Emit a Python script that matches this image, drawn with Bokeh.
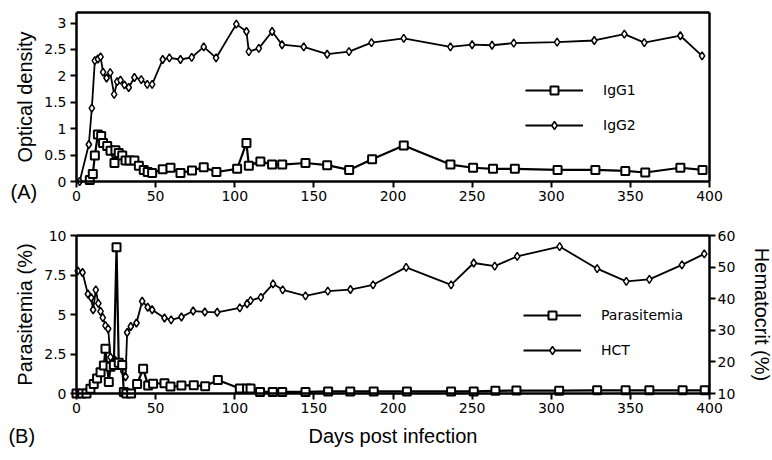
from bokeh.plotting import figure
from bokeh.layouts import column
from bokeh.models import Range1d, LinearAxis, FixedTicker, Legend, LegendItem, Label
from bokeh.embed import file_html
from bokeh.resources import INLINE

# ---------------- data ----------------
igg1_days = [8.4, 10.3, 11.6, 13.5, 15.6, 16.8, 19.4, 21.5, 24.0, 24.6, 26.7, 28.9, 31.0, 33.5,
             36.6, 39.4, 42.5, 45.0, 47.8, 54.5, 59.4, 65.7, 73.0, 80.4, 88.4, 101.5, 107.4,
             108.9, 116.2, 123.6, 130.0, 144.7, 158.4, 172.3, 186.8, 206.8, 236.3, 250.6,
             263.2, 277.0, 304.0, 327.9, 346.8, 359.4, 381.6, 395.6]
igg1_od = [0.03, 0.14, 0.49, 0.89, 0.86, 0.73, 0.67, 0.58, 0.35, 0.59, 0.54, 0.49, 0.40, 0.40,
           0.40, 0.30, 0.22, 0.18, 0.16, 0.23, 0.26, 0.16, 0.21, 0.27, 0.18, 0.24, 0.73,
           0.30, 0.38, 0.32, 0.32, 0.35, 0.31, 0.22, 0.42, 0.68, 0.32, 0.26,
           0.24, 0.24, 0.22, 0.22, 0.20, 0.17, 0.26, 0.22]

igg2_days = [2.0, 7.8, 9.7, 11.6, 13.5, 15.2, 16.8, 19.0, 21.3, 23.8, 25.7, 27.8, 30.3, 33.0,
             36.6, 40.9, 44.7, 47.8, 54.5, 58.7, 65.7, 72.8, 80.4, 88.2, 101.0, 107.4, 108.9,
             115.2, 123.6, 129.9, 143.6, 158.4, 172.2, 186.4, 206.8, 236.3, 250.0, 262.6,
             276.3, 303.7, 327.2, 346.2, 358.8, 381.6, 395.3]
igg2_od = [0.0, 0.70, 1.39, 2.29, 2.32, 2.36, 2.07, 1.96, 2.06, 1.65, 1.89, 1.92, 1.83, 1.78,
           1.97, 1.93, 1.84, 1.84, 2.31, 2.34, 2.31, 2.35, 2.55, 2.34, 2.98, 2.84, 2.46,
           2.52, 2.84, 2.59, 2.55, 2.41, 2.46, 2.63, 2.71, 2.55, 2.59, 2.58,
           2.62, 2.64, 2.67, 2.79, 2.63, 2.76, 2.38]

para_days = [0.0, 3.6, 6.3, 8.8, 10.9, 13.0, 15.2, 17.3, 18.3, 20.4, 21.5, 23.6, 25.3, 26.7,
             28.9, 29.9, 31.5, 34.5, 38.3, 42.1, 45.3, 48.4, 55.6, 59.4, 66.3, 74.1, 81.3,
             89.3, 103.2, 107.8, 110.0, 116.0, 124.0, 130.0, 144.7, 159.0, 173.0, 187.8,
             208.8, 236.7, 251.0, 264.7, 278.0, 305.0, 329.0, 347.0, 362.0, 383.0, 397.0]
para_pct = [0.0, 0.0, 0.0, 0.3, 0.6, 0.95, 1.35, 1.77, 2.83, 0.72, 1.7, 1.8, 9.26, 1.95,
            1.8, 0.1, 0.0, 0.0, 0.6, 1.56, 0.5, 0.62, 0.65, 0.44, 0.5, 0.53, 0.46,
            0.86, 0.32, 0.32, 0.32, 0.1, 0.1, 0.1, 0.1, 0.13, 0.13, 0.13,
            0.13, 0.13, 0.13, 0.17, 0.19, 0.18, 0.2, 0.2, 0.2, 0.2, 0.2]

hct_days = [0.8, 3.8, 7.2, 9.3, 10.5, 12.2, 13.8, 15.2, 16.6, 18.3, 20.0, 21.5, 24.5, 27.0,
            29.5, 31.0, 32.0, 34.3, 37.9, 41.5, 45.0, 47.8, 55.6, 59.8, 66.3, 73.7, 81.1,
            88.9, 103.2, 107.8, 110.0, 116.5, 124.2, 130.3, 144.7, 158.8, 173.1, 187.4,
            208.3, 236.7, 251.0, 264.3, 278.5, 305.3, 329.0, 347.4, 362.0, 382.6, 396.7]
hct_pct = [48.8, 48.3, 41.5, 40.3, 36.5, 42.8, 38.5, 36.0, 34.0, 31.5, 30.5, 21.5, 20.5, 19.0,
           17.0, 15.3, 29.3, 31.2, 32.3, 39.2, 37.3, 36.5, 33.9, 33.3, 34.2, 36.1, 35.8,
           35.7, 37.1, 38.4, 39.4, 40.4, 44.7, 42.8, 40.9, 42.4, 42.9, 44.4,
           49.9, 44.4, 51.3, 50.3, 53.4, 56.5, 49.5, 45.5, 46.1, 50.7, 54.2]

x_ticks = [0, 50, 100, 150, 200, 250, 300, 350, 400]
od_ticks = [0, 0.5, 1, 1.5, 2, 2.5, 3]
od_tick_labels = ["0", "0.5", "1", "1.5", "2", "2.5", "3"]
par_ticks = [0, 2.5, 5, 7.5, 10]
par_tick_labels = ["0", "2.5", "5", "7.5", "10"]
hct_ticks = [10, 20, 30, 40, 50, 60]

# ---------------- layout constants (pixels) ----------------
AXIS_X = 76          # page x of the day-0 axis
PLOT_W = 633         # width of the 0..400 day span
RIGHT_BORDER = 63
TICK_FONT = "DejaVu Sans"
LABEL_FONT = "Liberation Sans"
SCALE = PLOT_W / 400.0


def style_axis(ax):
    ax.axis_line_width = 2.5
    ax.axis_line_color = "black"
    ax.major_tick_line_width = 2
    ax.major_tick_line_color = "black"
    ax.major_tick_out = 6
    ax.major_tick_in = 0
    ax.minor_tick_line_color = None
    ax.major_label_text_font = TICK_FONT
    ax.major_label_text_font_size = "14px"
    ax.major_label_text_color = "black"
    ax.axis_label_text_font = LABEL_FONT
    ax.axis_label_text_font_size = "20px"
    ax.axis_label_text_font_style = "normal"
    ax.axis_label_text_color = "black"


def edge_axis(loc, bounds, range_name="default", horizontal=True):
    # plain line used to close the box of a panel
    kw = dict(fixed_location=loc, bounds=bounds, ticker=FixedTicker(ticks=[]),
              axis_line_width=2.5, axis_line_color="black",
              major_tick_line_color=None, minor_tick_line_color=None,
              major_label_text_color=None, axis_label=None)
    if not horizontal:
        kw["y_range_name"] = range_name
    return LinearAxis(**kw)


def base_fig(top_px, ymax, px_per_unit, below_px):
    x0 = -AXIS_X / SCALE
    x1 = 400 + RIGHT_BORDER / SCALE
    y0 = -below_px / px_per_unit
    y1 = ymax + top_px / px_per_unit
    frame_h = int(round(ymax * px_per_unit)) + below_px + top_px
    p = figure(frame_width=AXIS_X + PLOT_W + RIGHT_BORDER, frame_height=frame_h,
               x_range=Range1d(x0, x1), y_range=Range1d(y0, y1),
               output_backend="svg", toolbar_location=None,
               min_border_left=0, min_border_right=0,
               min_border_top=0, min_border_bottom=0)
    p.xgrid.visible = False
    p.ygrid.visible = False
    p.outline_line_color = None
    p.background_fill_color = "white"
    p.border_fill_color = "white"
    xa = p.below[0]
    ya = p.left[0]
    xa.ticker = FixedTicker(ticks=x_ticks)
    xa.fixed_location = 0
    xa.bounds = (0, 400)
    ya.fixed_location = 0
    ya.bounds = (0, ymax)
    for ax in (xa, ya):
        style_axis(ax)
    xa.major_label_standoff = 3
    ya.major_label_standoff = 4
    p.add_layout(edge_axis(ymax, (0, 400)), "above")
    return p, xa, ya


def add_series(p, xs, ys, marker, size, lw, y_range_name="default"):
    ln = p.line(xs, ys, line_color="black", line_width=lw, y_range_name=y_range_name)
    sc = p.scatter(xs, ys, marker=marker, size=size, fill_color="white",
                   line_color="black", line_width=2 if marker == "square" else 1.5,
                   y_range_name=y_range_name)
    return ln, sc


def make_legend(items, loc):
    return Legend(items=items, location=loc, glyph_width=58, glyph_height=20, spacing=15,
                  padding=0, margin=0, label_standoff=20, border_line_color=None,
                  background_fill_alpha=0, label_text_font=TICK_FONT,
                  label_text_font_size="14px", label_text_color="black")


def panel_tag(text, x, y):
    return Label(x=x, y=y, text=text, text_align="left", text_baseline="middle",
                 text_font=LABEL_FONT, text_font_size="20px", text_color="black")


# ---------------- panel A ----------------
OD_MAX = 3.2
p1, x1a, y1a = base_fig(12, OD_MAX, 169 / OD_MAX, 29)
y1a.ticker = FixedTicker(ticks=od_ticks)
y1a.major_label_overrides = {t: l for t, l in zip(od_ticks, od_tick_labels)}
y1a.axis_label = "Optical density"
y1a.axis_label_standoff = 5
p1.add_layout(edge_axis(400, (0, OD_MAX), horizontal=False), "right")

l2, s2 = add_series(p1, igg2_days, igg2_od, "diamond", 8, 1.8)
l1, s1 = add_series(p1, igg1_days, igg1_od, "square", 8, 2.2)

p1.add_layout(make_legend([LegendItem(label="IgG1", renderers=[l1, s1]),
                           LegendItem(label="IgG2", renderers=[l2, s2])], (525, 75)))
p1.add_layout(panel_tag("(A)", -41.7, -0.19))

# ---------------- panel B ----------------
PAR_MAX = 10
P2_PX = 15.8
p2, x2a, y2a = base_fig(25, PAR_MAX, P2_PX, 65)
y2a.ticker = FixedTicker(ticks=par_ticks)
y2a.major_label_overrides = {t: l for t, l in zip(par_ticks, par_tick_labels)}
y2a.axis_label = "Parasitemia (%)"
y2a.axis_label_standoff = 5
x2a.axis_label = "Days post infection"
x2a.axis_label_standoff = 9

# hematocrit scale: 10..60 over the same height as parasitemia 0..10
p2.extra_y_ranges = {"hct": Range1d(10 + 5 * p2.y_range.start, 10 + 5 * p2.y_range.end)}
ax_r = LinearAxis(y_range_name="hct", ticker=FixedTicker(ticks=hct_ticks),
                  axis_label="Hematocrit (%)", bounds=(10, 60), fixed_location=400)
style_axis(ax_r)
ax_r.major_label_standoff = 2
ax_r.axis_label_standoff = 13
p2.add_layout(ax_r, "right")

lh, sh = add_series(p2, hct_days, hct_pct, "diamond", 8, 1.8, y_range_name="hct")
lp, sp = add_series(p2, para_days, para_pct, "square", 8, 2.2)

p2.add_layout(make_legend([LegendItem(label="Parasitemia", renderers=[lp, sp]),
                           LegendItem(label="HCT", renderers=[lh, sh])], (523, 98)))
p2.add_layout(panel_tag("(B)", -43.0, -2.72))

layout = column(p1, p2, spacing=0)

with open("out.html", "w") as f:
    f.write(file_html(layout, INLINE))
